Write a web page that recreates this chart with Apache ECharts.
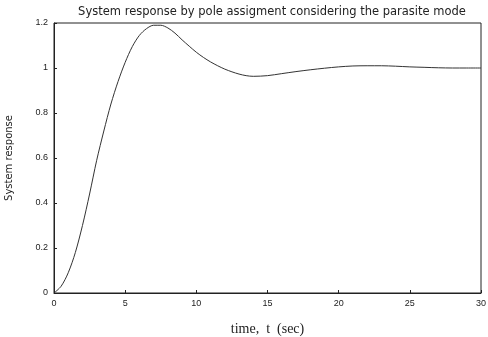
<!DOCTYPE html>
<html>
<head>
<meta charset="utf-8">
<script src="https://cdn.jsdelivr.net/npm/echarts@6/dist/echarts.min.js"></script>
<style>
  html, body { margin: 0; padding: 0; background: #fff; }
  #chart { width: 488px; height: 337px; }
</style>
</head>
<body>
<div id="chart"></div>
<script>
// time (sec) and response
const times = [0, 0.5, 1, 1.5, 2, 2.5, 3, 3.5, 4, 4.5, 5, 5.5, 6, 6.5, 7, 7.5, 8, 8.5, 9, 9.5, 10,
  10.5, 11, 11.5, 12, 12.5, 13, 13.5, 14, 15, 16, 17, 18, 19, 20, 21, 22, 23, 24, 25, 26, 27, 28, 29, 30];
const response = [0, 0.03, 0.09, 0.18, 0.3, 0.44, 0.59, 0.72, 0.84, 0.94, 1.025, 1.095, 1.145, 1.175, 1.19, 1.19,
  1.178, 1.155, 1.125, 1.097, 1.07, 1.047, 1.027, 1.01, 0.995, 0.983, 0.973, 0.966, 0.963, 0.966, 0.975,
  0.984, 0.992, 0.999, 1.005, 1.009, 1.01, 1.01, 1.008, 1.005, 1.003, 1.001, 1.0, 1.0, 1.0];
const xTicks = [0, 5, 10, 15, 20, 25, 30];
const yTicks = [0, 0.2, 0.4, 0.6, 0.8, 1, 1.2];

const chart = echarts.init(document.getElementById("chart"));

const option = {
  backgroundColor: "#fff",
  animation: false,
  title: {
    text: "System response by pole assigment considering the parasite mode",
    left: 267,
    textAlign: "center",
    top: 1,
    textStyle: { fontFamily: "DejaVu Sans", fontSize: 11.5, fontWeight: "normal", color: "#222" },
  },
  grid: {
    left: 54,
    right: 7,
    top: 23,
    bottom: 44,
    outerBoundsMode: "none",
    show: true,
    borderColor: "#222",
    borderWidth: 1,
  },
  xAxis: {
    type: "value",
    min: 0,
    max: 30,
    interval: 5,
    name: "time,  t  (sec)",
    nameLocation: "middle",
    nameGap: 29,
    nameTextStyle: { fontFamily: "Liberation Serif", fontSize: 14, color: "#222" },
    axisLine: { show: true, lineStyle: { color: "#222", width: 1 } },
    axisTick: { inside: true, length: 3, lineStyle: { color: "#222" } },
    axisLabel: {
      margin: 6,
      fontFamily: "Liberation Sans",
      fontSize: 9,
      color: "#222",
      formatter: (v) => (xTicks.includes(v) ? String(v) : ""),
    },
    splitLine: { show: false },
  },
  yAxis: {
    type: "value",
    min: 0,
    max: 1.2,
    interval: 0.2,
    name: "System response",
    nameLocation: "middle",
    nameGap: 40,
    nameTextStyle: { fontFamily: "DejaVu Sans", fontSize: 10, color: "#222" },
    axisLine: { show: true, lineStyle: { color: "#222", width: 1 } },
    axisTick: { inside: true, length: 3, lineStyle: { color: "#222" } },
    axisLabel: {
      margin: 6,
      fontFamily: "Liberation Sans",
      fontSize: 9,
      color: "#222",
      formatter: (v) => {
        const t = yTicks.find((y) => Math.abs(y - v) < 1e-6);
        return t === undefined ? "" : String(t);
      },
    },
    splitLine: { show: false },
  },
  series: [
    {
      type: "line",
      data: times.map((t, i) => [t, response[i]]),
      smooth: 0.3,
      showSymbol: false,
      lineStyle: { color: "#333", width: 1 },
    },
  ],
};

chart.setOption(option);
</script>
</body>
</html>
